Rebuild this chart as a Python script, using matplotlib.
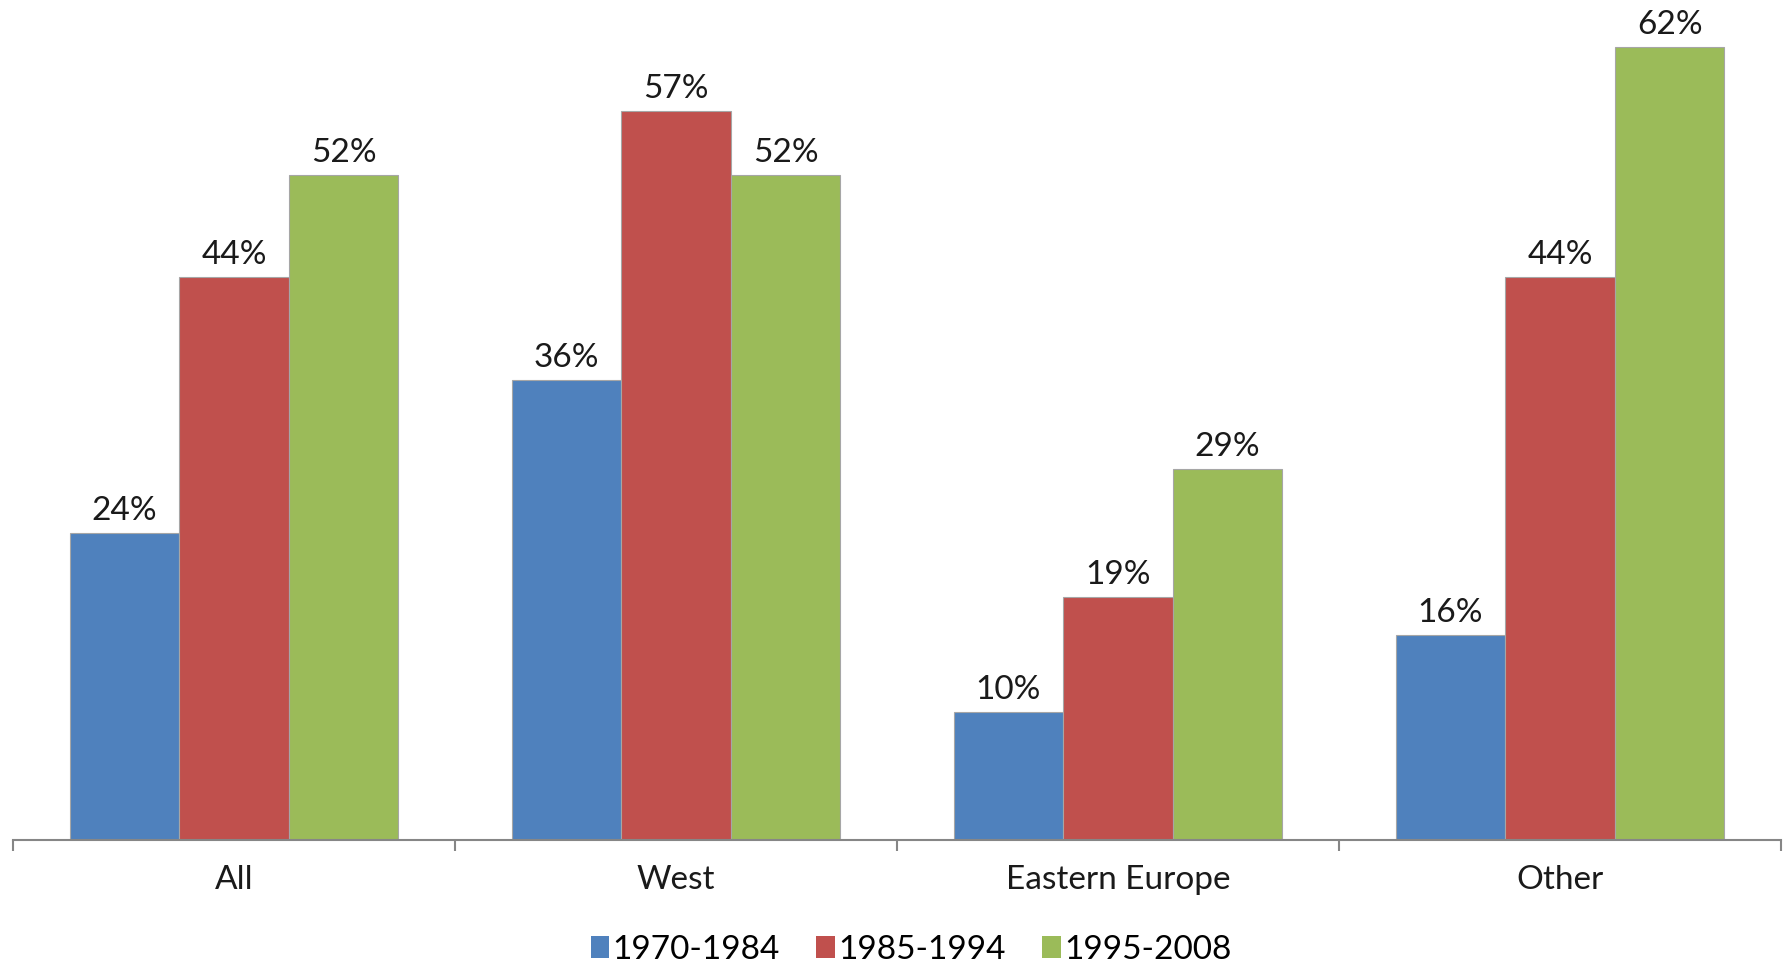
import matplotlib
matplotlib.use("Agg")
import matplotlib.pyplot as plt
import numpy as np
from matplotlib.patches import Patch

plt.rcParams['font.family'] = ['Lato', 'DejaVu Sans']

categories = ["All", "West", "Eastern Europe", "Other"]
periods = ["1970-1984", "1985-1994", "1995-2008"]
share_1970_1984 = [24, 36, 10, 16]
share_1985_1994 = [44, 57, 19, 44]
share_1995_2008 = [52, 52, 29, 62]
series = [share_1970_1984, share_1985_1994, share_1995_2008]
colors = ["#4F81BD", "#C0504D", "#9BBB59"]

fig = plt.figure(figsize=(17.89, 9.64), dpi=100)
ax = fig.add_axes([13 / 1789, 124 / 964, 1768 / 1789, 840 / 964])

x = np.arange(len(categories))
width = 0.248
for i, (vals, col) in enumerate(zip(series, colors)):
    pos = x + (i - 1) * width
    bars = ax.bar(pos, vals, width=width, color=col, edgecolor="#A6A6A6",
                  linewidth=0.8, zorder=2)
    for b, v in zip(bars, vals):
        ax.annotate(f"{v}%", (b.get_x() + b.get_width() / 2, v),
                    xytext=(0, 5), textcoords="offset points",
                    ha="center", va="bottom", fontsize=24, color="#1a1a1a")

ax.set_xlim(-0.5, len(categories) - 0.5)
ax.set_ylim(0, 65.7)
ax.set_yticks([])
for s in ["top", "right", "left"]:
    ax.spines[s].set_visible(False)
ax.spines["bottom"].set_color("#868686")
ax.spines["bottom"].set_linewidth(1.5)

ax.set_xticks(x)
ax.set_xticklabels(categories, fontsize=24, color="#1a1a1a")
ax.tick_params(axis="x", which="major", length=0, pad=18)
ax.set_xticks(np.arange(-0.5, len(categories)), minor=True)
ax.tick_params(axis="x", which="minor", length=8, width=1.5, color="#868686",
               direction="out")
ax.set_facecolor("none")

handles = [Patch(facecolor=c, edgecolor="none") for c in colors]
fig.legend(handles, periods, loc="center", bbox_to_anchor=(911 / 1789, 1 - 950 / 964),
           ncol=3, frameon=False, fontsize=24, handlelength=0.55, handleheight=0.65,
           handletextpad=0.1, columnspacing=1.1)

fig.savefig("out.png", dpi=100, facecolor="white")
